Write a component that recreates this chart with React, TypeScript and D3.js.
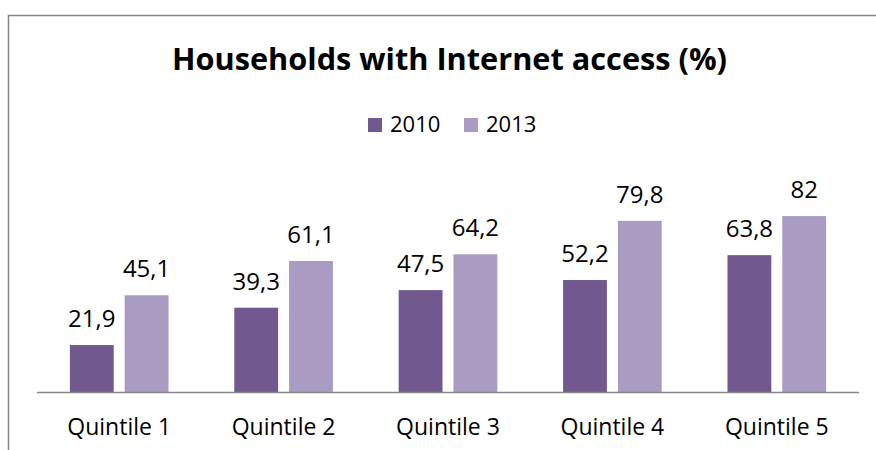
import React from "react";
import * as d3 from "d3";

const categories = ["Quintile 1", "Quintile 2", "Quintile 3", "Quintile 4", "Quintile 5"];
const seriesNames = ["2010", "2013"];
const values2010 = [21.9, 39.3, 47.5, 52.2, 63.8];
const values2013 = [45.1, 61.1, 64.2, 79.8, 82];
const valueLabels2010 = ["21,9", "39,3", "47,5", "52,2", "63,8"];
const valueLabels2013 = ["45,1", "61,1", "64,2", "79,8", "82"];
const colors = ["#71588F", "#A99BC1"];

const W = 876;
const H = 450;
const FONT = "'Open Sans', Lato, sans-serif";

export default function App() {
  const plotLeft = 37;
  const plotRight = 859;
  const baseY = 392;

  const x0 = d3.scaleBand<string>().domain(categories).range([plotLeft, plotRight]).paddingInner(0.4).paddingOuter(0.2);
  const x1 = d3.scaleBand<string>().domain(seriesNames).range([0, x0.bandwidth()]).paddingInner(0.2);
  const y = d3.scaleLinear().domain([0, 100]).range([baseY, baseY - 214.5]);

  const series = [values2010, values2013];
  const labels = [valueLabels2010, valueLabels2013];

  return (
    <svg width={W} height={H} style={{ position: "absolute", left: 0, top: 0, background: "#fff", fontVariantLigatures: "none" }}>
      <rect x={8.5} y={15.5} width={W + 20} height={H + 20} fill="#fff" stroke="#878787" strokeWidth={1.5} />
      <text x={449.5} y={70} textAnchor="middle" fontFamily={FONT} fontWeight="bold" fontSize={30} fill="#000"
        textLength={555} lengthAdjust="spacingAndGlyphs">
        Households with Internet access (%)
      </text>
      {/* legend */}
      {seriesNames.map((s, i) => {
        const lx = i === 0 ? 368 : 464;
        return (
          <g key={s}>
            <rect x={lx} y={118} width={14} height={14} fill={colors[i]} />
            <text x={lx + 22} y={132} fontFamily={FONT} fontSize={22} fill="#000">{s}</text>
          </g>
        );
      })}
      {categories.map((c, ci) => (
        <g key={c} transform={`translate(${x0(c)},0)`}>
          {seriesNames.map((s, si) => {
            const v = series[si][ci];
            const bx = x1(s)!;
            return (
              <g key={s}>
                <rect x={bx} y={y(v)} width={x1.bandwidth()} height={baseY - y(v)} fill={colors[si]} />
                <text x={bx + x1.bandwidth() / 2} y={y(v) - 18} textAnchor="middle" fontFamily={FONT} fontSize={24} fill="#000">
                  {labels[si][ci]}
                </text>
              </g>
            );
          })}
          <text x={x0.bandwidth() / 2} y={435} textAnchor="middle" fontFamily={FONT} fontSize={23} fill="#000">{c}</text>
        </g>
      ))}
      <line x1={plotLeft} x2={plotRight} y1={baseY + 0.5} y2={baseY + 0.5} stroke="#878787" strokeWidth={1.5} />
    </svg>
  );
}
